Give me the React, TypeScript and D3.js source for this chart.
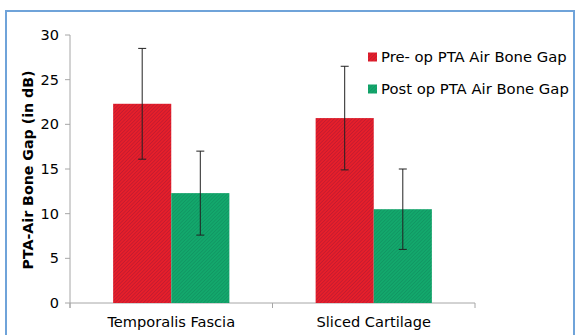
import React from "react";
import * as d3 from "d3";

const categories = ["Temporalis Fascia", "Sliced Cartilage"];
const seriesNames = ["Pre- op PTA Air Bone Gap", "Post op PTA Air Bone Gap"];
const preOp = [22.3, 20.7];
const preOpErr = [6.2, 5.8];
const postOp = [12.3, 10.5];
const postOpErr = [4.7, 4.5];
const yTicks = [0, 5, 10, 15, 20, 25, 30];

const W = 577;
const H = 335;
const left = 70;
const right = 475;
const top = 35;
const bottom = 303;

const App = () => {
  const x = d3.scaleBand().domain(categories).range([left, right]);
  const y = d3.scaleLinear().domain([0, 30]).range([bottom, top]);
  const barW = x.bandwidth() * 0.287;
  const font = "'DejaVu Sans', Verdana, sans-serif";

  const series = [
    { name: seriesNames[0], values: preOp, errs: preOpErr, fill: "url(#redHatch)", offset: -1 },
    { name: seriesNames[1], values: postOp, errs: postOpErr, fill: "url(#greenHatch)", offset: 0 },
  ];

  return (
    <svg width={W} height={H} style={{ position: "absolute", left: 0, top: 0 }}>
      <defs>
        <pattern id="redHatch" width={2.5} height={2.5} patternUnits="userSpaceOnUse" patternTransform="rotate(45)">
          <rect width={2.5} height={2.5} fill="#e61f2a" />
          <rect width={0.8} height={2.5} fill="#c21a30" />
        </pattern>
        <pattern id="greenHatch" width={2.5} height={2.5} patternUnits="userSpaceOnUse" patternTransform="rotate(45)">
          <rect width={2.5} height={2.5} fill="#13a86c" />
          <rect width={0.8} height={2.5} fill="#109562" />
        </pattern>
      </defs>
      <rect x={0} y={0} width={W} height={H} fill="#fff" />
      <rect x={6} y={11} width={568} height={H} fill="none" stroke="#6fa3d9" strokeWidth={2} />

      {/* y axis */}
      <line x1={left} x2={left} y1={top} y2={bottom + 5} stroke="#a6a6a6" />
      {yTicks.map((t) => (
        <g key={t}>
          <line x1={left - 5} x2={left} y1={y(t)} y2={y(t)} stroke="#a6a6a6" />
          <text x={left - 11} y={y(t)} dy="0.35em" textAnchor="end" fontSize={14.5} fontFamily={font} fill="#000">
            {t}
          </text>
        </g>
      ))}
      <text
        transform={`translate(28,170) rotate(-90)`}
        textAnchor="middle"
        fontSize={14.2}
        fontWeight="bold"
        fontFamily={font}
        dy="0.35em"
      >
        PTA-Air Bone Gap (in dB)
      </text>

      {/* x axis */}
      <line x1={left} x2={right} y1={bottom} y2={bottom} stroke="#a6a6a6" />
      {[left, ...categories.map((c) => (x(c) as number) + x.bandwidth())].map((px, i) => (
        <line key={i} x1={px} x2={px} y1={bottom} y2={bottom + 5} stroke="#a6a6a6" />
      ))}
      {categories.map((c) => (
        <text key={c} x={(x(c) as number) + x.bandwidth() / 2} y={327} textAnchor="middle" fontSize={14.6} fontFamily={font}>
          {c}
        </text>
      ))}

      {/* bars */}
      {series.map((s) =>
        categories.map((c, i) => {
          const cx = (x(c) as number) + x.bandwidth() / 2;
          const bx = cx + s.offset * barW;
          const mid = bx + barW / 2;
          const hi = y(s.values[i] + s.errs[i]);
          const lo = y(s.values[i] - s.errs[i]);
          return (
            <g key={s.name + c}>
              <rect x={bx} y={y(s.values[i])} width={barW} height={bottom - y(s.values[i])} fill={s.fill} />
              <line x1={mid} x2={mid} y1={hi} y2={lo} stroke="#222" strokeWidth={1} />
              <line x1={mid - 4} x2={mid + 4} y1={hi} y2={hi} stroke="#222" strokeWidth={1} />
              <line x1={mid - 4} x2={mid + 4} y1={lo} y2={lo} stroke="#222" strokeWidth={1} />
            </g>
          );
        })
      )}

      {/* legend */}
      {series.map((s, i) => (
        <g key={s.name} transform={`translate(368,${57 + i * 32})`}>
          <rect x={0} y={-4.5} width={9} height={9} fill={s.fill} />
          <text x={13} y={0} dy="0.35em" fontSize={14.8} fontFamily={font}>
            {s.name}
          </text>
        </g>
      ))}
    </svg>
  );
};

export default App;
